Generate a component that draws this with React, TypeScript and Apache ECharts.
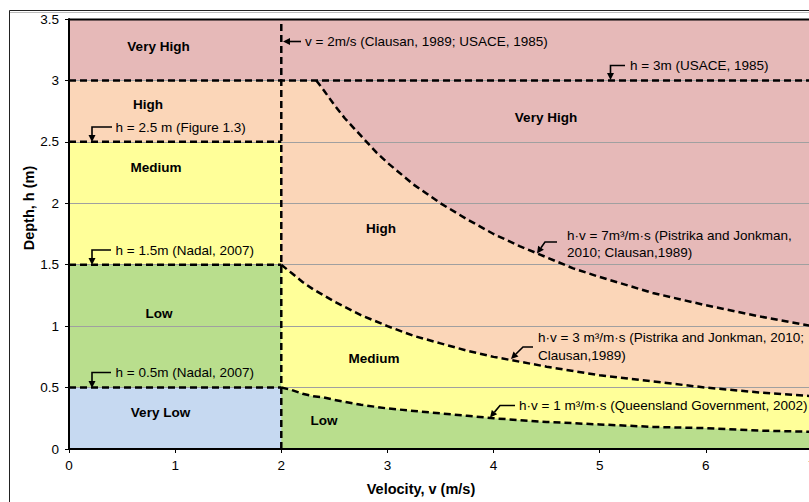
import React, { useEffect, useRef } from "react";
import * as echarts from "echarts";

// ---- data ----
const xTickValues = [0, 1, 2, 3, 4, 5, 6, 7];
const yTickValues = [0, 0.5, 1, 1.5, 2, 2.5, 3, 3.5];
const velocityLimit = 2; // v = 2 m/s
const depthVeryHigh = 3; // h = 3 m
const depthHigh = 2.5; // h = 2.5 m
const depthMedium = 1.5; // h = 1.5 m
const depthLow = 0.5; // h = 0.5 m
const depthTop = 3.5;
const velocityEnd = 7;

// h·v = 7 curve
const hv7V = [2.33, 2.4, 2.5, 2.6, 2.75, 2.9, 3, 3.25, 3.5, 3.75, 4, 4.25, 4.5, 4.75, 5, 5.5, 6, 6.5, 7];
const hv7H = [3, 2.92, 2.8, 2.69, 2.55, 2.41, 2.33, 2.15, 2, 1.87, 1.75, 1.65, 1.56, 1.47, 1.4, 1.27, 1.17, 1.08, 1.0];
// h·v = 3 curve
const hv3V = [2, 2.1, 2.2, 2.3, 2.4, 2.5, 2.75, 3, 3.25, 3.5, 3.75, 4, 4.5, 5, 5.5, 6, 6.5, 7];
const hv3H = [1.5, 1.43, 1.36, 1.3, 1.25, 1.2, 1.09, 1, 0.92, 0.86, 0.8, 0.75, 0.67, 0.6, 0.55, 0.5, 0.46, 0.43];
// h·v = 1 curve
const hv1V = [2, 2.1, 2.2, 2.3, 2.4, 2.5, 2.75, 3, 3.25, 3.5, 3.75, 4, 4.5, 5, 5.5, 6, 6.5, 7];
const hv1H = [0.5, 0.48, 0.45, 0.43, 0.42, 0.4, 0.36, 0.33, 0.31, 0.29, 0.27, 0.25, 0.22, 0.2, 0.18, 0.17, 0.15, 0.14];

const zoneColors = {
  veryHigh: "#E6B9B8",
  high: "#FBD6B8",
  medium: "#FFFF99",
  low: "#B9DE8D",
  veryLow: "#C6D9F1",
};

const zip = (xs: number[], ys: number[]) => xs.map((x, i) => [x, ys[i]]);

const FONT = '"Liberation Sans", Arial, sans-serif';

function arrow(points: number[][]) {
  const n = points.length;
  const tip = points[n - 1];
  const prev = points[n - 2];
  const dx = tip[0] - prev[0];
  const dy = tip[1] - prev[1];
  const len = Math.sqrt(dx * dx + dy * dy);
  const ux = dx / len;
  const uy = dy / len;
  const headLen = 7;
  const halfW = 3.5;
  const bx = tip[0] - ux * headLen;
  const by = tip[1] - uy * headLen;
  const px = -uy;
  const py = ux;
  return [
    {
      type: "polyline",
      z: 20,
      shape: { points: [...points.slice(0, -1), [bx, by]] },
      style: { stroke: "#000", lineWidth: 1.6, fill: null },
    },
    {
      type: "polygon",
      z: 20,
      shape: {
        points: [tip, [bx + px * halfW, by + py * halfW], [bx - px * halfW, by - py * halfW]],
      },
      style: { fill: "#000" },
    },
  ];
}

function note(text: string, x: number, y: number) {
  return {
    type: "text",
    z: 20,
    x,
    y,
    style: { text, fill: "#000", font: `13.5px ${FONT}`, align: "left", verticalAlign: "middle" },
  };
}

function zone(text: string, x: number, y: number) {
  return {
    type: "text",
    z: 20,
    x,
    y,
    style: { text, fill: "#000", font: `bold 13.5px ${FONT}`, align: "center", verticalAlign: "middle" },
  };
}

export default function App() {
  const ref = useRef<HTMLDivElement>(null);

  useEffect(() => {
    if (!ref.current) return;
    const chart = echarts.init(ref.current, null, { renderer: "svg" });

    const hv7 = zip(hv7V, hv7H);
    const hv3 = zip(hv3V, hv3H);
    const hv1 = zip(hv1V, hv1H);

    const area = (name: string, data: number[][], color: string) => ({
      name,
      type: "line",
      z: 1,
      data,
      symbol: "none",
      lineStyle: { width: 0 },
      areaStyle: { color, opacity: 1, origin: "start" },
      silent: true,
    });

    const dashed = (name: string, data: number[][]) => ({
      name,
      type: "line",
      z: 5,
      data,
      symbol: "none",
      lineStyle: { color: "#000", width: 2.5, type: [7, 4] },
      silent: true,
    });

    const series = [
      area("Very High", [[0, depthTop], [velocityEnd, depthTop]], zoneColors.veryHigh),
      area("High", [[0, depthVeryHigh], ...hv7], zoneColors.high),
      area("Medium", [[0, depthHigh], [velocityLimit, depthHigh], ...hv3], zoneColors.medium),
      area("Low", [[0, depthMedium], [velocityLimit, depthMedium], ...hv1], zoneColors.low),
      area("Very Low", [[0, depthLow], [velocityLimit, depthLow]], zoneColors.veryLow),
      dashed("h3", [[0, depthVeryHigh], [velocityEnd, depthVeryHigh]]),
      dashed("h2.5", [[0, depthHigh], [velocityLimit, depthHigh]]),
      dashed("h1.5", [[0, depthMedium], [velocityLimit, depthMedium]]),
      dashed("h0.5", [[0, depthLow], [velocityLimit, depthLow]]),
      dashed("v2", [[velocityLimit, 0], [velocityLimit, depthTop]]),
      dashed("hv7", hv7),
      dashed("hv3", hv3),
      dashed("hv1", hv1),
    ];

    const graphic: any[] = [
      // outer frame
      { type: "line", z: 20, shape: { x1: 9.5, y1: 10.5, x2: 809, y2: 10.5 }, style: { stroke: "#222", lineWidth: 1 } },
      { type: "line", z: 20, shape: { x1: 10, y1: 12.5, x2: 809, y2: 12.5 }, style: { stroke: "#bbb", lineWidth: 1 } },
      { type: "line", z: 20, shape: { x1: 9.5, y1: 10.5, x2: 9.5, y2: 502 }, style: { stroke: "#222", lineWidth: 1 } },
      // plot top border
      { type: "line", z: 20, shape: { x1: 69, y1: 19.5, x2: 809, y2: 19.5 }, style: { stroke: "#000", lineWidth: 2 } },
      // axis titles
      {
        type: "text",
        z: 20,
        x: 29,
        y: 208,
        rotation: Math.PI / 2,
        style: { text: "Depth, h (m)", fill: "#000", font: `bold 14.5px ${FONT}`, align: "center", verticalAlign: "middle" },
      },
      {
        type: "text",
        z: 20,
        x: 421,
        y: 489,
        style: { text: "Velocity, v (m/s)", fill: "#000", font: `bold 14.5px ${FONT}`, align: "center", verticalAlign: "middle" },
      },
      // zone labels
      zone("Very High", 158.5, 46),
      zone("High", 148, 104),
      zone("Medium", 156, 167),
      zone("Low", 159, 313),
      zone("Very Low", 160.5, 412),
      zone("Very High", 546, 117),
      zone("High", 381, 228),
      zone("Medium", 374, 358.5),
      zone("Low", 324, 420.5),
      // annotations
      note("v = 2m/s (Clausan, 1989; USACE, 1985)", 305, 41.5),
      ...arrow([[301, 41.5], [283, 41.5]]),
      note("h = 3m (USACE, 1985)", 630, 65.5),
      ...arrow([[625, 65.5], [610.5, 65.5], [610.5, 80]]),
      note("h = 2.5 m (Figure 1.3)", 115.5, 127),
      ...arrow([[112, 127], [92, 127], [92, 142]]),
      note("h = 1.5m (Nadal, 2007)", 115.5, 250),
      ...arrow([[111, 250], [92, 250], [92, 265]]),
      note("h = 0.5m (Nadal, 2007)", 115.5, 372.5),
      ...arrow([[111, 372.5], [92, 372.5], [92, 388]]),
      note("h·v = 7m³/m·s (Pistrika and Jonkman,", 567, 235),
      note("2010; Clausan,1989)", 567, 252.5),
      ...arrow([[557, 242], [545, 242], [537, 253.5]]),
      note("h·v = 3 m³/m·s (Pistrika and Jonkman, 2010;", 538, 337),
      note("Clausan,1989)", 538, 355),
      ...arrow([[533, 347], [523, 347], [511, 359]]),
      note("h·v = 1 m³/m·s (Queensland Government, 2002)", 519, 405),
      ...arrow([[515, 405.5], [500, 405.5], [490, 417.5]]),
    ];

    chart.setOption({
      animation: false,
      backgroundColor: "#fff",
      grid: { left: 69, top: 19, right: -3, height: 430, show: false, outerBoundsMode: "none", containLabel: false },
      xAxis: {
        type: "value",
        min: xTickValues[0],
        max: xTickValues[xTickValues.length - 1],
        interval: 1,
        z: 6,
        axisLine: { show: true, onZero: false, lineStyle: { color: "#000", width: 2 } },
        axisTick: { show: true, length: 4, lineStyle: { color: "#000", width: 1 } },
        axisLabel: { color: "#000", fontSize: 13.5, fontFamily: FONT, margin: 9 },
        splitLine: { show: false },
      },
      yAxis: {
        type: "value",
        min: yTickValues[0],
        max: yTickValues[yTickValues.length - 1],
        interval: 0.5,
        z: 3,
        axisLine: { show: true, onZero: false, lineStyle: { color: "#000", width: 2 } },
        axisTick: { show: true, length: 4, lineStyle: { color: "#000", width: 1 } },
        axisLabel: { color: "#000", fontSize: 13.5, fontFamily: FONT, margin: 10 },
        splitLine: { show: true, lineStyle: { color: "#A0A0A0", width: 1 } },
      },
      series,
      graphic,
    });

    return () => chart.dispose();
  }, []);

  return (
    <div
      ref={ref}
      style={{ position: "fixed", left: 0, top: 0, width: 809, height: 502, background: "#fff" }}
    />
  );
}
